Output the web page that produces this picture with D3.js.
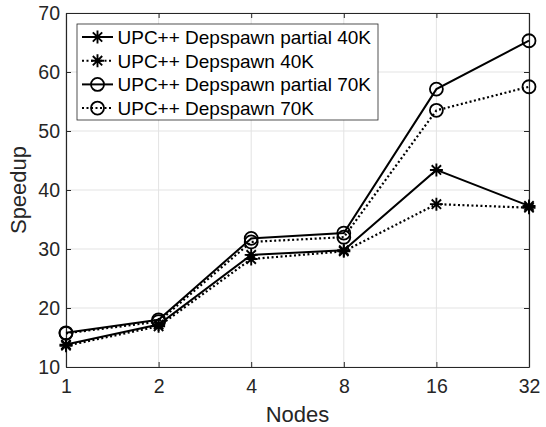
<!DOCTYPE html>
<html>
<head>
<meta charset="utf-8">
<script src="https://cdn.jsdelivr.net/npm/d3@7"></script>
<style>
  body { margin: 0; background: #fff; }
  text { font-family: "Liberation Sans", Arial, sans-serif; }
</style>
</head>
<body>
<div id="chart"></div>
<script>
// data
var nodes = [1, 2, 4, 8, 16, 32];
var yTicks = [10, 20, 30, 40, 50, 60, 70];
var partial40 = [13.8, 17.2, 29.0, 29.8, 43.4, 37.3];
var full40 = [13.6, 16.9, 28.3, 29.6, 37.6, 37.0];
var partial70 = [15.8, 18.0, 31.8, 32.7, 57.1, 65.3];
var full70 = [15.7, 17.7, 31.2, 32.0, 53.5, 57.5];

var series = [
  {name: "UPC++ Depspawn partial 40K", values: partial40, marker: "star", dotted: false},
  {name: "UPC++ Depspawn 40K", values: full40, marker: "star", dotted: true},
  {name: "UPC++ Depspawn partial 70K", values: partial70, marker: "circle", dotted: false},
  {name: "UPC++ Depspawn 70K", values: full70, marker: "circle", dotted: true}
];

var margin = {top: 13, right: 17, bottom: 60, left: 66},
    width = 546 - margin.left - margin.right,
    height = 427 - margin.top - margin.bottom;

var svg = d3.select("#chart")
  .append("svg")
    .attr("width", 546)
    .attr("height", 427)
  .append("g")
    .attr("transform", "translate(" + margin.left + "," + margin.top + ")");

var x = d3.scaleLog().base(2).domain([1, 32]).range([0, width]);
var y = d3.scaleLinear().domain([10, 70]).range([height, 0]);

// grid
svg.append("g").selectAll("line").data(nodes).enter().append("line")
  .attr("x1", d => x(d)).attr("x2", d => x(d))
  .attr("y1", 0).attr("y2", height)
  .attr("stroke", "#e3e3e3").attr("stroke-width", 1);
svg.append("g").selectAll("line").data(yTicks).enter().append("line")
  .attr("y1", d => y(d)).attr("y2", d => y(d))
  .attr("x1", 0).attr("x2", width)
  .attr("stroke", "#e3e3e3").attr("stroke-width", 1);

// axes, ticks pointing inward
var xAxis = svg.append("g")
  .attr("transform", "translate(0," + height + ")")
  .call(d3.axisBottom(x).tickValues(nodes).tickFormat(d3.format("d")).tickSizeInner(-5).tickSizeOuter(0).tickPadding(10));
var xTop = svg.append("g")
  .call(d3.axisTop(x).tickValues(nodes).tickFormat("").tickSizeInner(-5).tickSizeOuter(0));
var yAxis = svg.append("g")
  .call(d3.axisLeft(y).tickValues(yTicks).tickSizeInner(-5).tickSizeOuter(0).tickPadding(6));
var yRight = svg.append("g")
  .attr("transform", "translate(" + width + ",0)")
  .call(d3.axisRight(y).tickValues(yTicks).tickFormat("").tickSizeInner(-5).tickSizeOuter(0));

[xAxis, xTop, yAxis, yRight].forEach(function(a) {
  a.select(".domain").attr("stroke", "#262626").attr("stroke-width", 1.2);
  a.selectAll(".tick line").attr("stroke", "#262626");
  a.selectAll(".tick text").attr("fill", "#262626").style("font-size", "19.5px")
    .style("font-family", "'Liberation Sans', Arial, sans-serif");
});
xAxis.selectAll(".tick text").attr("dy", "0.8em");

// lines
var line = d3.line().x((d, i) => x(nodes[i])).y(d => y(d));

function drawMarker(g, type, cx, cy) {
  if (type === "circle") {
    g.append("circle").attr("cx", cx).attr("cy", cy).attr("r", 6.5)
      .attr("fill", "none").attr("stroke", "#000").attr("stroke-width", 1.8);
  } else {
    var r = 6.5, d = r * 0.72;
    var p = "M" + (cx - r) + "," + cy + "h" + (2 * r) +
            "M" + cx + "," + (cy - r) + "v" + (2 * r) +
            "M" + (cx - d) + "," + (cy - d) + "l" + (2 * d) + "," + (2 * d) +
            "M" + (cx - d) + "," + (cy + d) + "l" + (2 * d) + "," + (-2 * d);
    g.append("path").attr("d", p).attr("stroke", "#000").attr("stroke-width", 1.9).attr("fill", "none");
  }
}

series.forEach(function(s) {
  svg.append("path")
    .datum(s.values)
    .attr("d", line)
    .attr("fill", "none")
    .attr("stroke", "#000")
    .attr("stroke-width", s.dotted ? 2.2 : 2)
    .attr("stroke-dasharray", s.dotted ? "2,2.5" : null);
  var mg = svg.append("g");
  s.values.forEach(function(v, i) { drawMarker(mg, s.marker, x(nodes[i]), y(v)); });
});

// legend
var legend = svg.append("g").attr("transform", "translate(11,11)");
legend.append("rect")
  .attr("x", 0).attr("y", 0).attr("width", 301).attr("height", 96)
  .attr("fill", "#fff").attr("stroke", "#262626").attr("stroke-width", 0.8);
series.forEach(function(s, i) {
  var ly = 13 + i * 23.7;
  legend.append("line")
    .attr("x1", 5).attr("x2", 36).attr("y1", ly).attr("y2", ly)
    .attr("stroke", "#000").attr("stroke-width", 2)
    .attr("stroke-dasharray", s.dotted ? "2,2.5" : null);
  drawMarker(legend, s.marker, 20.5, ly);
  legend.append("text")
    .attr("x", 40.5).attr("y", ly).attr("dy", "0.36em")
    .style("font-size", "19px").attr("fill", "#000")
    .text(s.name);
});

// axis labels
svg.append("text")
  .attr("x", width / 2).attr("y", height + 55)
  .style("text-anchor", "middle").style("font-size", "22px").attr("fill", "#262626")
  .text("Nodes");
svg.append("text")
  .attr("transform", "rotate(-90)")
  .attr("x", -height / 2).attr("y", -40)
  .style("text-anchor", "middle").style("font-size", "22px").attr("fill", "#262626")
  .text("Speedup");
</script>
</body>
</html>
